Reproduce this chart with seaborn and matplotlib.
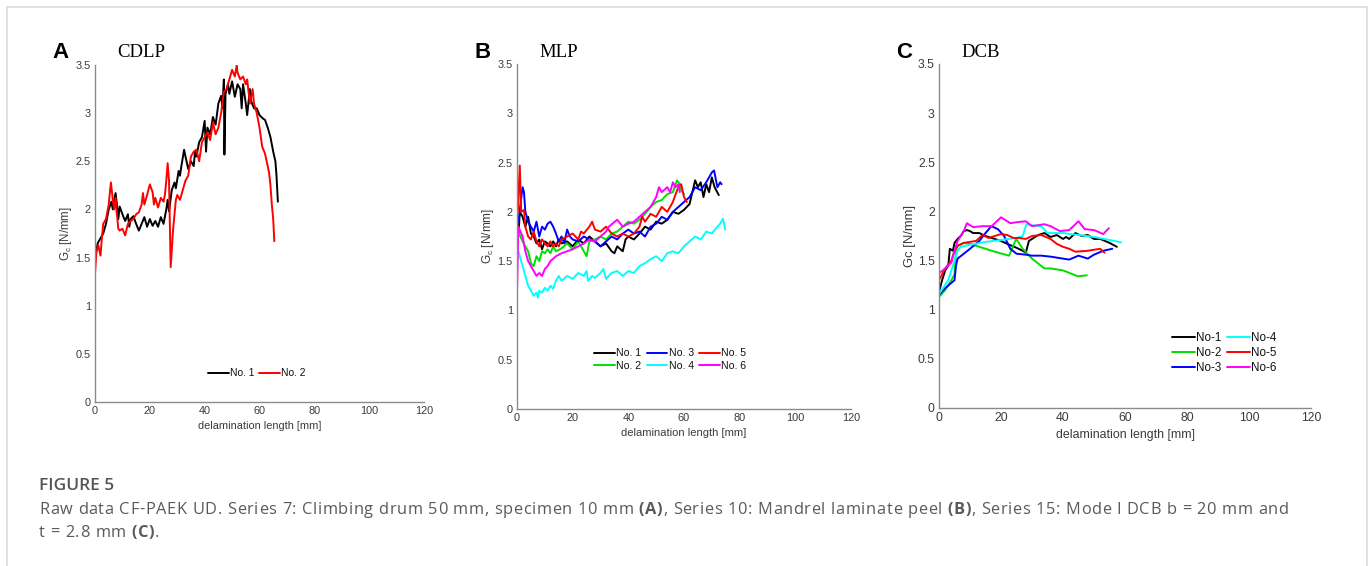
import matplotlib
matplotlib.use("Agg")
import matplotlib.pyplot as plt
from matplotlib.lines import Line2D
from matplotlib.ticker import FuncFormatter
from matplotlib.font_manager import FontProperties
import seaborn as sns
import pandas as pd

# ---------------- data ----------------
# Panel A: CDLP
a1_x = [0.3, 1, 2, 3, 4, 5, 6, 6.5, 7, 7.5, 8, 8.5, 9, 10, 11, 12, 12.5, 13, 14, 15, 16, 17, 18, 19, 20,
        21, 22, 23, 24, 25, 26, 26.5, 27, 28, 29, 29.5, 30.5, 31, 31.5, 32.5, 33, 34, 35, 36, 36.5, 37,
        38, 39, 40, 40.5, 41, 42, 43, 44, 45, 46, 46.5, 47, 47.2, 47.6, 48.5, 49, 50, 51, 52, 53, 53.5,
        54, 55, 55.5, 56.5, 57, 58, 59, 60, 61, 62, 63, 64, 65, 65.8, 66.2, 66.7]
a1_y = [1.55, 1.65, 1.70, 1.75, 1.85, 2.00, 2.08, 2.00, 2.10, 2.17, 2.05, 1.90, 2.03, 1.95, 1.88, 1.95,
        1.82, 1.90, 1.93, 1.85, 1.78, 1.85, 1.92, 1.82, 1.90, 1.83, 1.88, 1.82, 1.92, 1.85, 2.00, 2.10,
        1.98, 2.20, 2.28, 2.22, 2.40, 2.35, 2.45, 2.62, 2.55, 2.42, 2.50, 2.45, 2.60, 2.55, 2.70, 2.75,
        2.92, 2.60, 2.85, 2.78, 2.96, 2.88, 3.10, 3.18, 3.05, 3.35, 2.57, 3.20, 3.30, 3.20, 3.33, 3.17,
        3.30, 3.25, 3.05, 3.30, 3.10, 2.98, 3.25, 3.12, 3.05, 3.05, 2.98, 2.95, 2.93, 2.85, 2.75, 2.60,
        2.50, 2.35, 2.08]
a2_x = [0, 0.5, 1.2, 2, 2.5, 3, 4, 5, 5.8, 6.5, 7, 7.5, 8, 8.5, 9, 10, 11, 12, 13, 14, 15, 16, 17, 17.5,
        18, 19, 20, 21, 21.5, 22, 23, 24, 25, 25.5, 26, 26.5, 27, 27.6, 28.5, 29.5, 30, 31, 32, 33, 34,
        35, 36, 37, 38, 39, 40, 41, 42, 43, 44, 45, 46, 47, 48, 49, 50, 51, 51.7, 52, 53, 54, 55, 55.5,
        56.5, 57.5, 58, 59, 60, 61, 62, 63, 63.5, 64, 64.5, 65, 65.4]
a2_y = [1.33, 1.55, 1.63, 1.52, 1.70, 1.85, 1.90, 2.05, 2.28, 2.10, 2.00, 2.12, 1.95, 1.80, 1.78, 1.80,
        1.73, 1.85, 1.88, 1.90, 1.95, 1.97, 2.05, 2.17, 2.05, 2.15, 2.26, 2.18, 2.05, 2.12, 2.02, 2.12,
        2.08, 2.15, 2.30, 2.48, 2.30, 1.40, 1.80, 2.10, 2.15, 2.10, 2.20, 2.30, 2.35, 2.55, 2.60, 2.62,
        2.50, 2.70, 2.75, 2.80, 2.72, 2.90, 2.78, 2.85, 3.00, 3.22, 3.25, 3.35, 3.45, 3.38, 3.50, 3.42,
        3.35, 3.38, 3.30, 3.35, 3.10, 3.25, 3.10, 3.00, 2.85, 2.65, 2.58, 2.45, 2.38, 2.25, 2.05, 1.90,
        1.67]

# Panel B: MLP
b1_x = [0.5, 1, 2, 3, 4, 5, 6, 7, 8, 9, 10, 11, 12, 13, 14, 15, 16, 18, 20, 22, 24, 26, 28, 30, 32, 34,
        35, 36, 38, 39, 40, 42, 44, 46, 48, 50, 52, 54, 56, 58, 60, 62, 63, 64, 65, 66, 67, 68, 69, 70,
        71, 72.5]
b1_y = [1.75, 2.00, 1.95, 1.85, 1.95, 1.78, 1.75, 1.68, 1.72, 1.62, 1.70, 1.68, 1.65, 1.70, 1.65, 1.72,
        1.68, 1.70, 1.65, 1.72, 1.68, 1.75, 1.70, 1.65, 1.68, 1.60, 1.58, 1.65, 1.60, 1.72, 1.75, 1.72,
        1.78, 1.85, 1.82, 1.90, 1.88, 1.92, 2.00, 1.98, 2.02, 2.08, 2.20, 2.32, 2.25, 2.30, 2.15, 2.28,
        2.20, 2.35, 2.25, 2.17]
b2_x = [0.5, 2, 3, 4, 5, 6, 7, 8, 9, 10, 11, 12, 13, 14, 16, 18, 20, 22, 24, 25, 26, 28, 30, 32, 34, 36,
        38, 40, 42, 44, 46, 48, 50, 52, 54, 56, 57.5, 58.5, 59, 60]
b2_y = [1.80, 1.70, 1.65, 1.60, 1.48, 1.45, 1.55, 1.50, 1.60, 1.58, 1.62, 1.58, 1.65, 1.60, 1.63, 1.68,
        1.62, 1.70, 1.60, 1.55, 1.70, 1.72, 1.75, 1.72, 1.78, 1.80, 1.85, 1.90, 1.88, 1.92, 1.98, 2.05,
        2.10, 2.12, 2.18, 2.20, 2.32, 2.28, 2.22, 2.18]
b3_x = [0.5, 2, 2.5, 3, 4, 5, 6, 7, 8, 9, 10, 11, 12, 13, 14, 15, 16, 17, 18, 19, 20, 22, 24, 26, 28,
        30, 32, 34, 36, 38, 40, 42, 44, 46, 48, 50, 52, 54, 56, 58, 60, 62, 64, 66, 68, 70, 70.8, 71.5,
        72, 73, 73.5]
b3_y = [1.90, 2.25, 2.20, 2.00, 1.90, 1.85, 1.80, 1.90, 1.75, 1.85, 1.82, 1.88, 1.90, 1.85, 1.78, 1.70,
        1.75, 1.68, 1.82, 1.75, 1.72, 1.70, 1.75, 1.72, 1.70, 1.65, 1.70, 1.75, 1.72, 1.78, 1.82, 1.78,
        1.80, 1.75, 1.85, 1.88, 1.95, 1.92, 2.00, 2.05, 2.10, 2.15, 2.25, 2.22, 2.30, 2.40, 2.42, 2.32,
        2.25, 2.30, 2.28]
b4_x = [0.5, 1.5, 3, 4, 5, 6, 7, 7.5, 8, 9, 10, 11, 12, 13, 14, 15, 16, 18, 20, 22, 24, 25, 25.5, 27,
        28, 30, 31, 32, 34, 36, 38, 40, 42, 44, 46, 48, 50, 52, 54, 56, 58, 60, 62, 64, 66, 68, 70, 72,
        73, 74, 74.8]
b4_y = [1.60, 1.50, 1.35, 1.25, 1.20, 1.15, 1.18, 1.13, 1.20, 1.18, 1.23, 1.20, 1.25, 1.22, 1.30, 1.35,
        1.30, 1.35, 1.32, 1.38, 1.35, 1.40, 1.30, 1.35, 1.33, 1.38, 1.42, 1.32, 1.38, 1.40, 1.35, 1.40,
        1.38, 1.45, 1.48, 1.52, 1.55, 1.50, 1.58, 1.60, 1.58, 1.65, 1.70, 1.75, 1.72, 1.80, 1.78, 1.85,
        1.88, 1.93, 1.82]
b5_x = [0.3, 1, 1.5, 2.5, 3, 4, 5, 6, 7, 8, 9, 10, 11, 12, 13, 14, 15, 16, 18, 20, 22, 23, 24, 26, 27,
        28, 30, 32, 34, 36, 38, 40, 42, 44, 45, 46, 48, 50, 52, 54, 55, 56, 57, 58, 59, 60, 61]
b5_y = [2.00, 2.47, 2.00, 2.02, 1.85, 1.75, 1.72, 1.80, 1.70, 1.65, 1.72, 1.68, 1.65, 1.70, 1.65, 1.68,
        1.65, 1.72, 1.75, 1.78, 1.72, 1.80, 1.78, 1.85, 1.90, 1.82, 1.80, 1.85, 1.78, 1.75, 1.78, 1.75,
        1.78, 1.85, 1.95, 1.90, 1.98, 1.95, 2.05, 2.00, 2.05, 2.10, 2.18, 2.25, 2.28, 2.15, 2.10]
b6_x = [0, 0.5, 2, 3, 4, 5, 6, 7, 8, 9, 10, 11, 12, 14, 16, 18, 20, 22, 24, 26, 28, 30, 32, 33, 36, 38,
        40, 42, 44, 46, 48, 50, 51, 52, 54, 55, 56, 57, 58, 58.5]
b6_y = [1.18, 1.85, 1.75, 1.60, 1.50, 1.45, 1.40, 1.35, 1.38, 1.35, 1.42, 1.45, 1.50, 1.55, 1.58, 1.60,
        1.62, 1.65, 1.68, 1.72, 1.70, 1.75, 1.80, 1.85, 1.92, 1.85, 1.88, 1.90, 1.95, 2.00, 2.05, 2.15,
        2.25, 2.20, 2.25, 2.20, 2.30, 2.25, 2.28, 2.20]

# Panel C: DCB
c1_x = [0, 1, 2, 3, 3.5, 4.5, 5, 6, 7, 8, 9, 10, 11, 13, 15, 18, 20, 22, 25, 27, 28, 29, 30, 32, 34, 36,
        38, 40, 41, 42, 44, 46, 48, 50, 52, 55, 57.4]
c1_y = [1.18, 1.30, 1.40, 1.45, 1.62, 1.60, 1.68, 1.72, 1.75, 1.80, 1.81, 1.80, 1.78, 1.78, 1.75, 1.72,
        1.70, 1.67, 1.63, 1.60, 1.58, 1.70, 1.72, 1.76, 1.78, 1.74, 1.76, 1.72, 1.74, 1.72, 1.78, 1.75,
        1.76, 1.72, 1.72, 1.68, 1.64]
c2_x = [0, 2, 4, 5, 5.5, 6, 8, 10, 14, 18, 22.6, 24.9, 27, 30, 34, 36, 40, 44.8, 47.7]
c2_y = [1.13, 1.20, 1.30, 1.36, 1.60, 1.65, 1.68, 1.67, 1.63, 1.59, 1.55, 1.72, 1.62, 1.52, 1.42, 1.42,
        1.40, 1.34, 1.35]
c3_x = [0, 2, 5, 5.5, 6, 8, 10, 13, 15, 16.9, 19, 21, 23, 25, 28, 30, 33, 36, 40, 42, 45, 48, 50, 53, 55.9]
c3_y = [1.15, 1.22, 1.30, 1.45, 1.52, 1.57, 1.62, 1.70, 1.78, 1.85, 1.82, 1.75, 1.62, 1.57, 1.56, 1.55,
        1.55, 1.54, 1.52, 1.51, 1.55, 1.52, 1.56, 1.60, 1.62]
c4_x = [0, 3, 5, 6, 7, 10, 15, 20, 25, 27, 28.2, 30, 33, 35, 40, 45, 50, 55, 58.8]
c4_y = [1.16, 1.30, 1.50, 1.60, 1.64, 1.66, 1.69, 1.71, 1.73, 1.75, 1.87, 1.86, 1.85, 1.78, 1.78, 1.76,
        1.74, 1.71, 1.685]
c5_x = [0, 2, 4, 5, 6, 8, 10, 12, 14, 16, 18, 20, 22, 24, 26, 28, 30, 33, 36, 38, 40, 42, 44, 48, 52, 53.4]
c5_y = [1.30, 1.42, 1.50, 1.60, 1.65, 1.68, 1.69, 1.70, 1.76, 1.73, 1.75, 1.77, 1.76, 1.73, 1.73, 1.72,
        1.75, 1.76, 1.72, 1.67, 1.64, 1.62, 1.59, 1.60, 1.62, 1.58]
c6_x = [0, 2, 4, 5, 6, 7, 8, 9, 10, 11, 14, 17, 20, 23, 25, 28, 30, 34, 36, 39, 42, 45, 47, 50, 53, 54.8]
c6_y = [1.37, 1.42, 1.48, 1.60, 1.70, 1.75, 1.80, 1.88, 1.86, 1.84, 1.85, 1.85, 1.94, 1.88, 1.89, 1.90,
        1.85, 1.87, 1.85, 1.80, 1.81, 1.90, 1.82, 1.81, 1.77, 1.83]

x_ticks = [0, 20, 40, 60, 80, 100, 120]
y_ticks = [0, 0.5, 1, 1.5, 2, 2.5, 3, 3.5]

panels = [
    dict(letter="A", title="CDLP", ylabel=r"G$_\mathregular{c}$ [N/mm]",
         series=[("No. 1", a1_x, a1_y, "#000000"), ("No. 2", a2_x, a2_y, "#ff0000")],
         rect=[95, 424, 402, 65], ncol=2, leg=(59, 0.30), fs=1.0),
    dict(letter="B", title="MLP", ylabel=r"G$_\mathregular{c}$ [N/mm]",
         series=[("No. 1", b1_x, b1_y, "#000000"), ("No. 2", b2_x, b2_y, "#00e000"),
                 ("No. 3", b3_x, b3_y, "#0000ff"), ("No. 4", b4_x, b4_y, "#00ffff"),
                 ("No. 5", b5_x, b5_y, "#ff0000"), ("No. 6", b6_x, b6_y, "#ff00ff")],
         rect=[517, 851, 409, 64], ncol=3, leg=(55, 0.50), fs=1.02),
    dict(letter="C", title="DCB", ylabel="Gc [N/mm]",
         series=[("No-1", c1_x, c1_y, "#000000"), ("No-2", c2_x, c2_y, "#00e000"),
                 ("No-3", c3_x, c3_y, "#0000ff"), ("No-4", c4_x, c4_y, "#00ffff"),
                 ("No-5", c5_x, c5_y, "#ff0000"), ("No-6", c6_x, c6_y, "#ff00ff")],
         rect=[939, 1311, 408, 64], ncol=2, leg=(92, 0.56), fs=1.13),
]

# ---------------- figure ----------------
sns.set_style("white")
plt.rcParams["font.family"] = ["Liberation Sans", "DejaVu Sans"]
W, H = 1370, 566
fig = plt.figure(figsize=(W / 100, H / 100), dpi=100)

TXT = "#3a3a3a"
SPN = "#8a8a8a"

for p in panels:
    x0, x1, y0, y1 = p["rect"]
    k = p["fs"]
    ax = fig.add_axes([x0 / W, 1 - y0 / H, (x1 - x0) / W, (y0 - y1) / H])
    for name, xs, ys, col in p["series"]:
        df = pd.DataFrame({"x": xs, "y": ys})
        sns.lineplot(data=df, x="x", y="y", color=col, lw=1.4, ax=ax, label=name,
                     estimator=None, sort=False)
    ax.set_xlim(0, 120)
    ax.set_ylim(0, 3.5)
    ax.set_xticks(x_ticks)
    ax.set_yticks(y_ticks)
    ax.yaxis.set_major_formatter(FuncFormatter(lambda v, _: f"{v:g}"))
    ax.tick_params(direction="in", length=3, width=0.8, color=SPN, labelsize=7.8 * k,
                   labelcolor=TXT, pad=3)
    for s in ["top", "right"]:
        ax.spines[s].set_visible(False)
    for s in ["left", "bottom"]:
        ax.spines[s].set_color(SPN)
        ax.spines[s].set_linewidth(1.0)
    ax.set_xlabel("delamination length [mm]", fontsize=7.9 * k, color=TXT, labelpad=3.5)
    ax.set_ylabel(p["ylabel"], fontsize=8.3 * k, color=TXT, labelpad=1.5)
    ax.patch.set_alpha(0)
    leg = ax.legend(ncol=p["ncol"], loc="center", bbox_to_anchor=p["leg"],
                    bbox_transform=ax.transData, frameon=False, fontsize=7.4 * k,
                    handlelength=2.0, handletextpad=0.1, columnspacing=0.5,
                    labelspacing=0.25, borderpad=0)
    for t in leg.get_texts():
        t.set_color("#111111")
    # panel letter and title
    fig.text((x0 - 43) / W, 1 - 58 / H, p["letter"], fontsize=16, fontweight="bold",
             family="Liberation Sans", color="black")
    fig.text((x0 + 22) / W, 1 - 57 / H, p["title"], fontsize=13.5,
             family="Liberation Serif", color="black")

# frame
fc = "#dcdcdc"
fig.add_artist(Line2D([7 / W, 7 / W], [0, 1 - 7 / H], color=fc, lw=1.2))
fig.add_artist(Line2D([7 / W, 1367 / W], [1 - 7 / H, 1 - 7 / H], color=fc, lw=1.2))
fig.add_artist(Line2D([1367 / W, 1367 / W], [0, 1 - 7 / H], color=fc, lw=1.2))

# caption (tracked text)
CAP = "#5a5a5a"
renderer = fig.canvas.get_renderer()

line1 = [("Raw data CF-PAEK UD. Series 7: Climbing drum 50 mm, specimen 10 mm ", False),
         ("(A)", True), (", Series 10: Mandrel laminate peel ", False), ("(B)", True),
         (", Series 15: Mode I DCB b = 20 mm and", False)]
line2 = [("t = 2.8 mm ", False), ("(C)", True), (".", False)]


def seg_width(txt, prop):
    w, _, _ = renderer.get_text_width_height_descent(txt, prop, ismath=False)
    return w


def layout(parts, fs, track):
    out = []
    x = 0.0
    for txt, bold in parts:
        prop = FontProperties(family="Open Sans", size=fs,
                              weight="bold" if bold else "normal")
        for i, ch in enumerate(txt):
            pre = seg_width(txt[:i], prop) if i else 0.0
            out.append((x + pre + i * track, ch, bold))
        x += seg_width(txt, prop) + len(txt) * track
    return out, x


CFS = 11.8
_, natural = layout(line1, CFS, 0.0)
n1 = sum(len(t) for t, _ in line1)
TRACK = (1250.0 - natural) / n1


def draw(x_px, y_px, parts):
    items, _ = layout(parts, CFS, TRACK)
    for dx, ch, bold in items:
        if ch == " ":
            continue
        fig.text((x_px + dx) / W, 1 - y_px / H, ch, fontsize=CFS, family="Open Sans",
                 fontweight="bold" if bold else "normal", color=CAP)


draw(39, 514, line1)
draw(39, 537, line2)
fig.text(39 / W, 1 - 490 / H, "FIGURE 5", fontsize=12.5, fontweight="semibold",
         family="Open Sans", color="#555555")

fig.savefig("out.png", dpi=100)
